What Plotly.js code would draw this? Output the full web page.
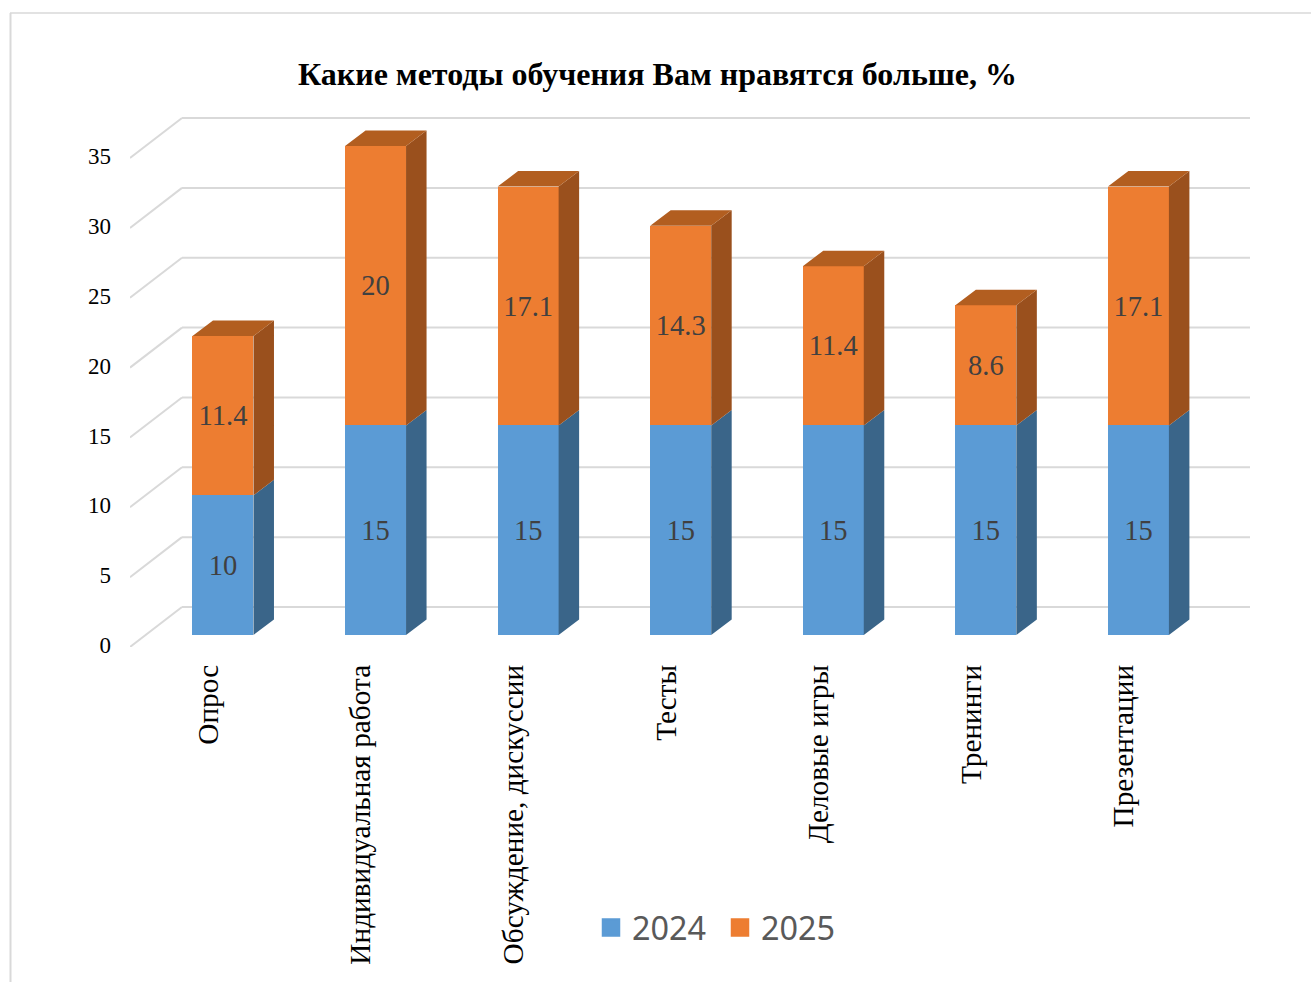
<!DOCTYPE html>
<html>
<head>
<meta charset="utf-8">
<script src="https://cdn.plot.ly/plotly-3.0.1.min.js"></script>
<style>html,body{margin:0;padding:0;background:#fff}#chart{width:1311px;height:982px}</style>
</head>
<body>
<div id="chart"></div>
<script>
const categories = ["Опрос","Индивидуальная работа","Обсуждение, дискуссии","Тесты","Деловые игры","Тренинги","Презентации"];
const values2024 = [10,15,15,15,15,15,15];
const values2025 = [11.4,20,17.1,14.3,11.4,8.6,17.1];
const yTicks = [0,5,10,15,20,25,30,35];

const W=1311,H=982;
const plotL=130,plotR=1250,plotT=117,plotB=647;
const xPerCat=152.6, yPerUnit=13.97;
const idx=categories.map((_,i)=>i);
// depth offsets expressed in axis units
const wallDX=52/xPerCat, wallBack=28/yPerUnit, wallFront=12/yPerUnit;
const barShift=16.7/xPerCat, barW=61/xPerCat, sideDX=20.5/xPerCat, sideDY=15.5/yPerUnit;
const xMin=-0.5, xMax=6.5+wallDX;
const yMin=-wallFront, yMax=yMin+(plotB-plotT)/yPerUnit;
const barL=i=>i+barShift-barW/2, barR=i=>i+barShift+barW/2;

function sideTrace(bases,tops,color){
  const x=[],y=[];
  idx.forEach(i=>{
    x.push(barR(i),barR(i)+sideDX,barR(i)+sideDX,barR(i),barR(i),null);
    y.push(bases[i],bases[i]+sideDY,tops[i]+sideDY,tops[i],bases[i],null);
  });
  return {type:'scatter',mode:'lines',x,y,fill:'toself',fillcolor:color,line:{width:0,color},showlegend:false,hoverinfo:'skip',xaxis:'x',yaxis:'y'};
}
const totals=values2024.map((v,i)=>v+values2025[i]);
const zeros=values2024.map(()=>0);
const topX=[],topY=[];
idx.forEach(i=>{
  topX.push(barL(i),barR(i),barR(i)+sideDX,barL(i)+sideDX,barL(i),null);
  topY.push(totals[i],totals[i],totals[i]+sideDY,totals[i]+sideDY,totals[i],null);
});
const barCommon={type:'bar',width:barW,offset:-barW/2,textposition:'inside',insidetextanchor:'middle',
  constraintext:'none',textangle:0,textfont:{family:'"Liberation Serif"',size:28.5,color:'#404040'},showlegend:false,hoverinfo:'skip'};
const data=[
  Object.assign({},barCommon,{name:'2024',x:idx.map(i=>i+barShift),y:values2024,text:values2024.map(String),marker:{color:'#5b9bd5'}}),
  Object.assign({},barCommon,{name:'2025',x:idx.map(i=>i+barShift),y:values2025,text:values2025.map(String),marker:{color:'#ed7d31'}}),
  sideTrace(zeros,values2024,'#3a6589'),
  sideTrace(values2024,totals,'#9a501d'),
  {type:'scatter',mode:'lines',x:topX,y:topY,fill:'toself',fillcolor:'#b25e20',line:{width:0,color:'#b25e20'},showlegend:false,hoverinfo:'skip'},
  {type:'scatter',mode:'markers',name:'2024',x:[0],y:[null],marker:{symbol:'square',size:16,color:'#5b9bd5',line:{width:2.5,color:'#5b9bd5'}}},
  {type:'scatter',mode:'markers',name:'2025',x:[0],y:[null],marker:{symbol:'square',size:16,color:'#ed7d31',line:{width:2.5,color:'#ed7d31'}}}
];
// paper coordinates are relative to the plot area
const px=v=>(v-plotL)/(plotR-plotL), py=v=>(plotB-v)/(plotB-plotT);
const grid={color:'#d9d9d9',width:2};
const shapes=[];
yTicks.forEach(v=>{
  shapes.push({type:'line',layer:'below',xref:'x',yref:'y',x0:xMin,y0:v-wallFront,x1:xMin+wallDX,y1:v+wallBack,line:grid});
  shapes.push({type:'line',layer:'below',xref:'x',yref:'y',x0:xMin+wallDX,y0:v+wallBack,x1:xMax,y1:v+wallBack,line:grid});
});
shapes.push({type:'line',xref:'paper',yref:'paper',x0:px(10.5),y0:py(982),x1:px(10.5),y1:py(13),line:{color:'#d9d9d9',width:2}});
shapes.push({type:'line',xref:'paper',yref:'paper',x0:px(10),y0:py(13),x1:px(1311),y1:py(13),line:{color:'#d9d9d9',width:1.5}});

const layout={
  width:W,height:H,paper_bgcolor:'#fff',plot_bgcolor:'rgba(0,0,0,0)',
  margin:{l:plotL,r:W-plotR,t:plotT,b:H-plotB,autoexpand:false},
  title:{text:'<b>Какие методы обучения Вам нравятся больше, %</b>',font:{family:'"Liberation Serif"',size:32,color:'#000'},x:657.5/W,xanchor:'center',y:1-74/H,yanchor:'middle'},
  barmode:'stack',showlegend:true,
  legend:{orientation:'h',x:px(590),xanchor:'left',y:py(928),yanchor:'middle',itemwidth:32,entrywidth:82,entrywidthmode:'pixels',font:{family:'"Noto Sans"',size:32.4,color:'#595959'},bgcolor:'rgba(0,0,0,0)',traceorder:'normal'},
  xaxis:{range:[xMin,xMax],tickmode:'array',tickvals:idx,ticktext:categories,tickangle:-90,showgrid:false,zeroline:false,showline:false,ticks:'',ticklabelshift:2,ticklabelstandoff:11,tickfont:{family:'"Liberation Serif"',size:29.3,color:'#000'}},
  yaxis:{range:[yMin,yMax],tickmode:'array',tickvals:yTicks,ticktext:yTicks.map(String),showgrid:false,zeroline:false,showline:false,ticks:'',ticklabelshift:10,ticklabelstandoff:18,tickfont:{family:'"Liberation Serif"',size:23,color:'#000'}},
  shapes
};
Plotly.newPlot('chart',data,layout,{displayModeBar:false,staticPlot:true});
</script>
</body>
</html>
